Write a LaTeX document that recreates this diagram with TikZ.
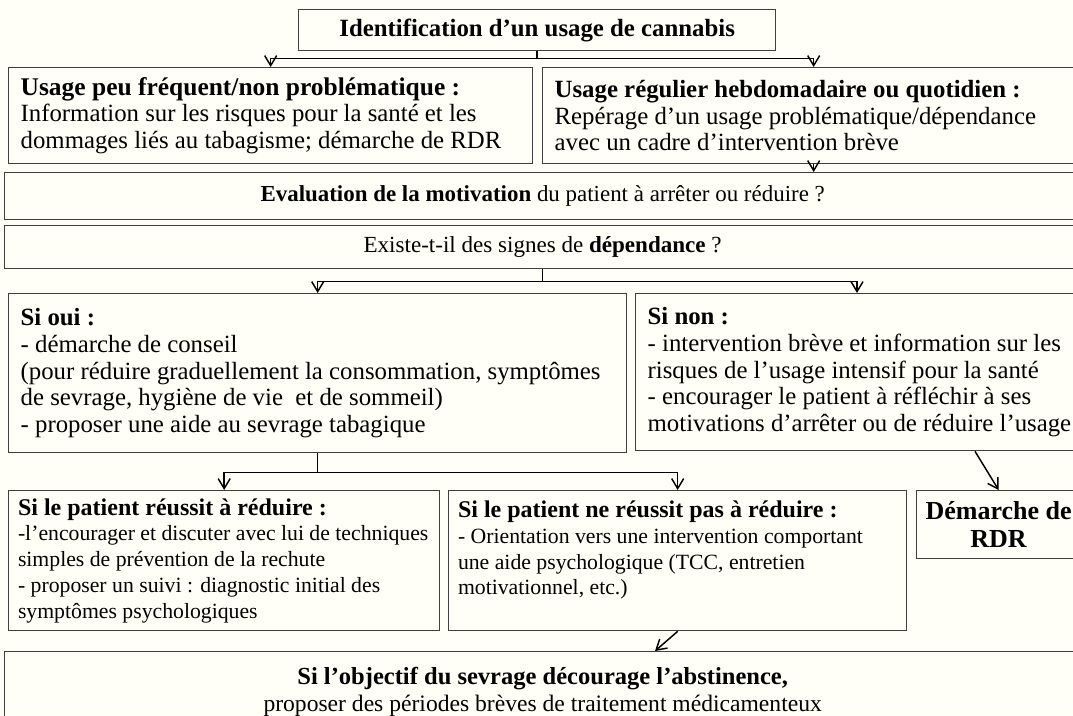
\documentclass[tikz,border=0pt]{standalone}
\usepackage{fontspec}
\setmainfont{Liberation Serif}
\usepackage{xcolor}
\usetikzlibrary{arrows.meta}

\definecolor{boxgray}{HTML}{404040}
\definecolor{paper}{HTML}{FFFFF7}

\tikzset{
  box/.style={draw=boxgray, line width=1pt, rectangle, anchor=north west,
    inner xsep=9pt, inner ysep=0pt, align=flush left,
    font=\fontsize{18.6}{20}\selectfont},
  cbox/.style={box, align=flush center},
  smallbox/.style={box, inner xsep=7pt, font=\fontsize{16.3}{19.3}\selectfont},
  link/.style={line width=1.1pt},
  arr/.style={link, -{Straight Barb[length=7.5pt,width=9pt]}},
}

\begin{document}
\begin{tikzpicture}[x=0.75pt,y=-0.75pt]
\useasboundingbox (0,0) rectangle (1073,715);
\fill[paper] (0,0) rectangle (1073,715);

% first level
\node[cbox, text width=339.75pt, minimum height=30.75pt] (ident) at (298,9)
  {\textbf{Identification d’un usage de cannabis}};

\node[box, text width=375pt, minimum height=72pt] (peu) at (8,67)
  {{\fontsize{19.1}{20}\selectfont\bfseries Usage peu fréquent/non problématique :}\\
   Information sur les risques pour la santé et les\\
   dommages liés au tabagisme; démarche de RDR};
\node[box, text width=388.5pt, minimum height=72pt] (reg) at (542,67)
  {\textbf{Usage régulier hebdomadaire ou quotidien :}\\
   Repérage d’un usage problématique/dépendance\\
   avec un cadre d’intervention brève};

% motivation, dependance
\node[cbox, font=\fontsize{17.2}{20}\selectfont, text width=789pt, minimum height=35.25pt] (eval) at (4,172)
  {\textbf{Evaluation de la motivation} du patient à arrêter ou réduire ?};
\node[cbox, font=\fontsize{17.3}{20}\selectfont, text width=789pt, minimum height=32.25pt] (existe) at (4,225)
  {Existe-t-il des signes de \textbf{dépendance} ?};

\node[box, text width=445.5pt, minimum height=119.25pt] (oui) at (8,293)
  {\textbf{Si oui :}\\
   - démarche de conseil\\
   (pour réduire graduellement la consommation, symptômes\\
   de sevrage, hygiène de vie~ et de sommeil)\\
   - proposer une aide au sevrage tabagique};
\node[box, text width=327pt, minimum height=117.75pt] (non) at (635,293)
  {\textbf{Si non :}\\
   - intervention brève et information sur les\\
   risques de l’usage intensif pour la santé\\
   - encourager le patient à réfléchir à ses\\
   motivations d’arrêter ou de réduire l’usage};

% outcome
\node[smallbox, text width=309.25pt, minimum height=105pt] (reu) at (8,490)
  {{\fontsize{18}{19.3}\selectfont\bfseries Si le patient réussit à réduire :}\\
   -l’encourager et discuter avec lui de techniques\\
   simples de prévention de la rechute\\
   - proposer un suivi : diagnostic initial des\\
   symptômes psychologiques};
\node[smallbox, text width=329.5pt, minimum height=105pt] (nreu) at (448,490)
  {{\fontsize{18}{19.3}\selectfont\bfseries Si le patient ne réussit pas à réduire :}\\
   - Orientation vers une intervention comportant\\
   une aide psychologique (TCC, entretien\\
   motivationnel, etc.)\\
   \mbox{}};
\node[cbox, inner xsep=3pt, font=\fontsize{19.5}{21}\selectfont, text width=117pt, minimum height=51pt] (rdr) at (916,490)
  {\textbf{Démarche de}\\ \textbf{RDR}};

\node[cbox, font=\fontsize{17.7}{20}\selectfont, text width=789pt, minimum height=60pt] (obj) at (4,651)
  {{\fontsize{18.4}{20}\selectfont\bfseries Si l’objectif du sevrage décourage l’abstinence,}\\
   proposer des périodes brèves de traitement médicamenteux};

% connectors
\draw[link] (ident.south) -- ++(0,7) coordinate (split1);
\draw[arr] (split1) -| (peu.north);
\draw[arr] (split1) -| (reg.north);
\draw[arr] (reg.south) -- (reg.south |- eval.north);

\draw[link] (existe.south) -- ++(0,12) coordinate (split2);
\draw[arr] (split2) -| (oui.north);
\draw[arr] (split2) -| ([xshift=166.5pt]non.north west);

\draw[link] (oui.south) -- ++(0,19) coordinate (split3);
\draw[arr] (split3) -| (reu.north);
\draw[arr] (split3) -| (nreu.north);

\draw[arr] ([xshift=255pt]non.south west) -- (rdr.north);
\draw[arr] (nreu.south) -- ([xshift=488.25pt]obj.north west);

\end{tikzpicture}
\end{document}
